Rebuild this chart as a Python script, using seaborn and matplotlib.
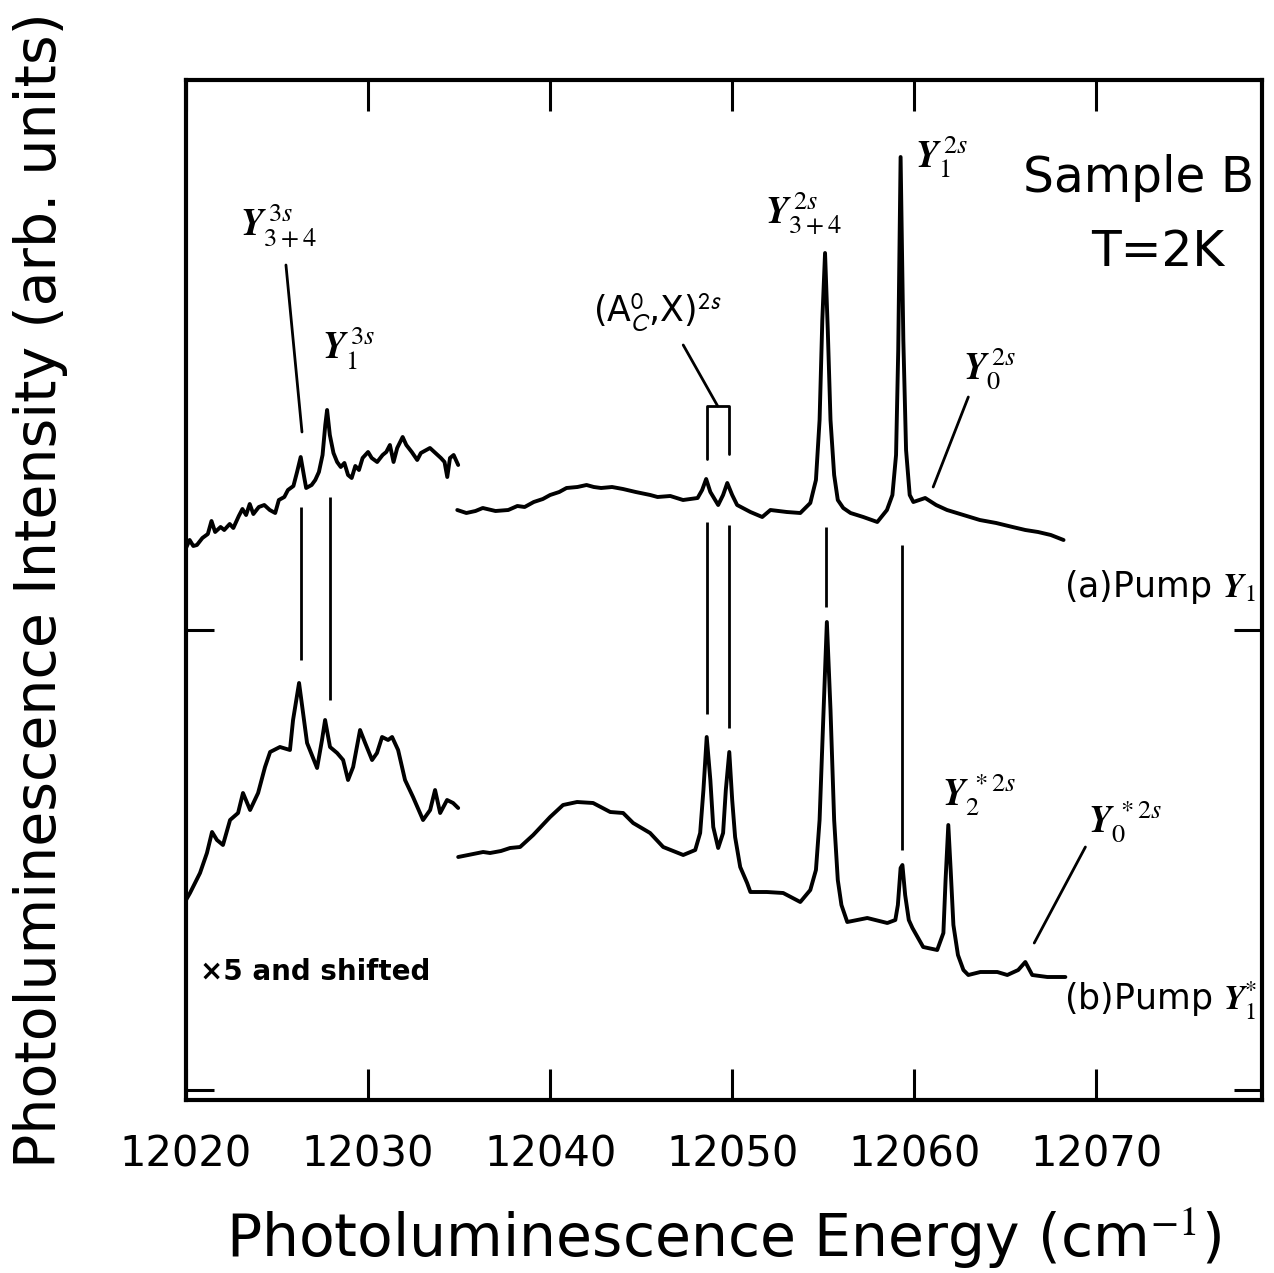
import numpy as np
import pandas as pd
import matplotlib
matplotlib.use("Agg")
import matplotlib.pyplot as plt
import seaborn as sns

# ---------------- data (energy in cm^-1, intensity in arb. units) ----------------
# (a) Pump Y1, low-energy part (x5 and shifted)
a_left_energy = [12020.0, 12020.2, 12020.4, 12020.6, 12020.9, 12021.2, 12021.4, 12021.6, 12021.9,
                 12022.1, 12022.4, 12022.6, 12022.9, 12023.1, 12023.3, 12023.5, 12023.7, 12024.0,
                 12024.3, 12024.6, 12024.9, 12025.1, 12025.4, 12025.6, 12025.9, 12026.1, 12026.3,
                 12026.5, 12026.6, 12026.9, 12027.1, 12027.3, 12027.5, 12027.65, 12027.75, 12027.9,
                 12028.1, 12028.3, 12028.5, 12028.7, 12028.9, 12029.1, 12029.3, 12029.5, 12029.7,
                 12030.0, 12030.2, 12030.5, 12030.8, 12031.0, 12031.2, 12031.4, 12031.6, 12031.9,
                 12032.1, 12032.4, 12032.7, 12032.9, 12033.2, 12033.4, 12033.7, 12034.0, 12034.2,
                 12034.35, 12034.5, 12034.7, 12034.95]
a_left_intensity = [55.2, 56.0, 55.4, 55.5, 56.2, 56.6, 57.9, 56.8, 57.3,
                    57.0, 57.6, 57.2, 58.4, 59.1, 58.5, 59.6, 58.6, 59.3,
                    59.5, 59.0, 58.7, 60.0, 60.3, 61.0, 61.4, 62.8, 64.3,
                    62.2, 61.2, 61.5, 62.0, 62.8, 64.5, 67.5, 69.0, 66.5,
                    64.7, 63.8, 63.3, 63.7, 62.5, 62.2, 63.4, 63.0, 64.2,
                    64.8, 64.2, 63.8, 64.5, 64.8, 65.5, 63.8, 65.2, 66.3,
                    65.5, 64.8, 64.0, 64.7, 65.0, 65.2, 64.7, 64.2, 63.8,
                    62.3, 64.2, 64.5, 63.5]

# (a) Pump Y1, main part
a_right_energy = [12034.9, 12035.4, 12035.9, 12036.3, 12037.0, 12037.7, 12038.2, 12038.6, 12039.1,
                  12039.6, 12040.0, 12040.5, 12040.9, 12041.5, 12042.0, 12042.4, 12042.8, 12043.4,
                  12044.0, 12044.7, 12045.5, 12045.9, 12046.6, 12047.3, 12048.1, 12048.35, 12048.57,
                  12048.8, 12049.23, 12049.5, 12049.73, 12050.0, 12050.27, 12051.0, 12051.65,
                  12052.1, 12053.0, 12053.74, 12054.29, 12054.6, 12054.8, 12054.95, 12055.1,
                  12055.25, 12055.4, 12055.6, 12055.8, 12056.1, 12056.5, 12057.2, 12057.97,
                  12058.5, 12058.8, 12059.0, 12059.12, 12059.25, 12059.4, 12059.55, 12059.75,
                  12059.95, 12060.6, 12061.2, 12061.8, 12062.7, 12063.6, 12064.5, 12065.4,
                  12066.1, 12066.8, 12067.5, 12068.2]
a_right_intensity = [59.0, 58.7, 58.9, 59.2, 58.9, 59.0, 59.4, 59.3, 59.8,
                     60.1, 60.5, 60.8, 61.2, 61.3, 61.5, 61.3, 61.2, 61.3,
                     61.1, 60.8, 60.5, 60.3, 60.4, 60.0, 60.2, 61.0, 62.1,
                     60.8, 59.5, 60.5, 61.7, 60.5, 59.5, 58.8, 58.3,
                     59.0, 58.8, 58.7, 59.7, 62.0, 68.0, 78.0, 84.7,
                     77.0, 68.0, 62.5, 60.0, 59.2, 58.7, 58.3, 57.8,
                     59.0, 60.5, 64.5, 75.0, 94.3, 76.0, 65.0, 60.5,
                     59.8, 60.2, 59.5, 59.0, 58.5, 58.0, 57.7, 57.3,
                     57.0, 56.8, 56.5, 56.0]

# (b) Pump Y1*, low-energy part (x5 and shifted)
b_left_energy = [12020.0, 12020.22, 12020.77, 12021.15, 12021.43, 12021.70, 12022.03, 12022.42,
                 12022.86, 12023.13, 12023.52, 12023.96, 12024.34, 12024.62, 12025.16, 12025.71,
                 12025.88, 12026.21, 12026.65, 12027.20, 12027.47, 12027.64, 12027.91, 12028.30,
                 12028.63, 12028.90, 12029.18, 12029.56, 12029.84, 12030.22, 12030.49, 12030.77,
                 12031.10, 12031.32, 12031.65, 12032.03, 12032.47, 12033.02, 12033.41, 12033.68,
                 12033.96, 12034.34, 12034.67, 12034.95]
b_left_intensity = [20.0, 20.7, 22.7, 24.7, 26.8, 26.0, 25.5, 28.0,
                    28.7, 30.7, 29.0, 30.7, 33.3, 34.8, 35.3, 35.0,
                    38.0, 41.7, 35.7, 33.2, 36.0, 38.0, 35.3, 34.7,
                    34.0, 32.0, 33.3, 37.0, 35.7, 34.0, 34.7, 36.3,
                    36.0, 36.3, 35.0, 32.0, 30.3, 28.0, 29.0, 31.0,
                    28.7, 30.0, 29.7, 29.2]

# (b) Pump Y1*, main part
b_right_energy = [12034.95, 12035.5, 12036.32, 12036.70, 12037.3, 12037.80, 12038.35, 12039.07,
                  12040.00, 12040.71, 12041.48, 12042.36, 12043.30, 12044.01, 12044.56, 12045.49,
                  12046.21, 12047.31, 12047.97, 12048.24, 12048.42, 12048.6, 12048.8, 12048.96,
                  12049.23, 12049.5, 12049.65, 12049.84, 12050.0, 12050.16, 12050.44, 12050.82,
                  12051.0, 12051.9, 12052.8, 12053.74, 12054.29, 12054.6, 12054.8, 12055.0,
                  12055.2, 12055.4, 12055.6, 12055.8, 12056.0, 12056.32, 12057.42, 12058.52,
                  12058.96, 12059.1, 12059.25, 12059.35, 12059.5, 12059.7, 12059.9, 12060.49,
                  12061.26, 12061.6, 12061.72, 12061.87, 12062.0, 12062.15, 12062.4, 12062.7,
                  12062.97, 12063.63, 12064.56, 12065.11, 12065.71, 12066.10, 12066.48, 12067.31,
                  12068.30]
b_right_intensity = [24.3, 24.5, 24.8, 24.7, 24.9, 25.2, 25.3, 26.5,
                     28.3, 29.5, 29.8, 29.7, 28.8, 28.7, 27.7, 26.7,
                     25.3, 24.5, 25.0, 26.7, 31.0, 36.3, 32.0, 27.3,
                     25.2, 26.7, 31.0, 34.8, 30.0, 26.3, 23.3, 21.7,
                     20.8, 20.8, 20.7, 19.8, 21.0, 23.0, 28.0, 38.0,
                     47.8, 39.0, 28.0, 22.0, 19.5, 17.8, 18.2, 17.7,
                     18.0, 19.5, 23.2, 23.5, 20.5, 18.0, 17.2, 15.3,
                     15.0, 16.7, 22.0, 27.5, 23.0, 17.5, 14.5, 13.0,
                     12.5, 12.8, 12.8, 12.5, 13.0, 13.8, 12.5, 12.3,
                     12.3]

# peak-position markers: (energy, y_from, y_to)
marker_energy = [12026.3, 12027.9, 12048.6, 12049.8, 12055.15, 12059.3]
marker_lower_from = [59.3, 60.3, 57.8, 57.5, 57.3, 55.5]
marker_lower_to = [44.0, 40.0, 38.6, 37.2, 49.3, 25.0]

x_ticks = [12020, 12030, 12040, 12050, 12060, 12070]

# ---------------- figure ----------------
sns.set_theme(style="ticks")
plt.rcParams["font.family"] = ["DejaVu Sans"]
plt.rcParams["mathtext.fontset"] = "stix"
plt.rcParams["text.color"] = "black"
plt.rcParams["axes.labelcolor"] = "black"
plt.rcParams["xtick.color"] = "black"
plt.rcParams["ytick.color"] = "black"
plt.rcParams["axes.edgecolor"] = "black"

fig = plt.figure(figsize=(12.74, 12.73), dpi=100)
fig.patch.set_facecolor("white")
ax = fig.add_axes([186 / 1274, 1 - 1100 / 1273, 1076 / 1274, 1020 / 1273])

frames = []
for name, e, i in [("a_left", a_left_energy, a_left_intensity),
                   ("a_right", a_right_energy, a_right_intensity),
                   ("b_left", b_left_energy, b_left_intensity),
                   ("b_right", b_right_energy, b_right_intensity)]:
    frames.append(pd.DataFrame({"energy": e, "intensity": i, "segment": name}))
spectra = pd.concat(frames, ignore_index=True)

sns.lineplot(data=spectra, x="energy", y="intensity", units="segment", estimator=None,
             sort=False, color="black", linewidth=2.8, ax=ax)

line_kw = dict(color="black", linewidth=2.0)
# vertical markers linking the two spectra
ax.vlines(marker_energy, marker_lower_to, marker_lower_from, **line_kw)
# markers above spectrum (a)
ax.plot([12048.6, 12048.6, 12049.8, 12049.8], [64.1, 69.4, 69.4, 64.6], **line_kw)
ax.plot([12047.31, 12049.2], [75.5, 69.4], **line_kw)
ax.plot([12025.49, 12026.37], [83.5, 66.8], **line_kw)
ax.plot([12062.97, 12061.04], [70.3, 61.3], **line_kw)
ax.plot([12069.40, 12066.59], [25.3, 15.7], **line_kw)

# peak labels
lab_kw = dict(fontsize=27, ha="left", va="baseline", color="black")
ax.text(12022.97, 86.3, r"$\mathbfit{Y}_{3+4}^{\;3s}$", **lab_kw)
ax.text(12027.47, 74.0, r"$\mathbfit{Y}_{1}^{\;3s}$", **lab_kw)
ax.text(12051.81, 87.5, r"$\mathbfit{Y}_{3+4}^{\;2s}$", **lab_kw)
ax.text(12060.05, 93.2, r"$\mathbfit{Y}_{1}^{\;2s}$", **lab_kw)
ax.text(12062.69, 72.0, r"$\mathbfit{Y}_{0}^{\;2s}$", **lab_kw)
ax.text(12061.55, 29.4, r"$\mathbfit{Y}_{2}^{\;*2s}$", **lab_kw)
ax.text(12069.56, 26.7, r"$\mathbfit{Y}_{0}^{\;*2s}$", **lab_kw)
ax.text(12042.36, 77.8, r"(A$_{\mathsf{C}}^{\mathsf{0}}$,X)$^{\mathsf{2s}}$",
        fontsize=25, ha="left", va="baseline")

ax.text(12068.2, 50.3, r"(a)Pump $\mathbfit{Y}_{1}$", fontsize=25, ha="left", va="baseline")
ax.text(12068.2, 9.0, r"(b)Pump $\mathbfit{Y}_{1}^{*}$", fontsize=25, ha="left", va="baseline")
ax.text(12020.77, 12.0, "×5 and shifted", fontsize=20, fontweight="bold",
        ha="left", va="baseline")

ax.text(12072.3, 92.2, "Sample B", fontsize=35, ha="center", va="center")
ax.text(12073.4, 84.8, "T=2K", fontsize=35, ha="center", va="center")

# axes styling
ax.set_xlim(12020, 12079.1)
ax.set_ylim(0, 102)
ax.set_xticks(x_ticks)
ax.set_xticklabels([str(t) for t in x_ticks])
ax.set_yticks([1, 47])
ax.set_yticklabels([])
ax.tick_params(axis="x", which="major", direction="in", length=22, width=2.2,
               top=True, bottom=True, labelsize=30, pad=24)
ax.tick_params(axis="y", which="major", direction="in", length=20, width=2.2,
               left=True, right=True)
for side in ["left", "right", "top", "bottom"]:
    ax.spines[side].set_linewidth(3.0)
    ax.spines[side].set_color("black")

ax.set_xlabel(r"Photoluminescence Energy (cm$^{-1}$)", fontsize=42, labelpad=22)
ax.set_ylabel("Photoluminescence Intensity (arb. units)", fontsize=41)
ax.yaxis.set_label_coords(-0.11, 0.5)

fig.savefig("out.png", dpi=100, facecolor="white")
